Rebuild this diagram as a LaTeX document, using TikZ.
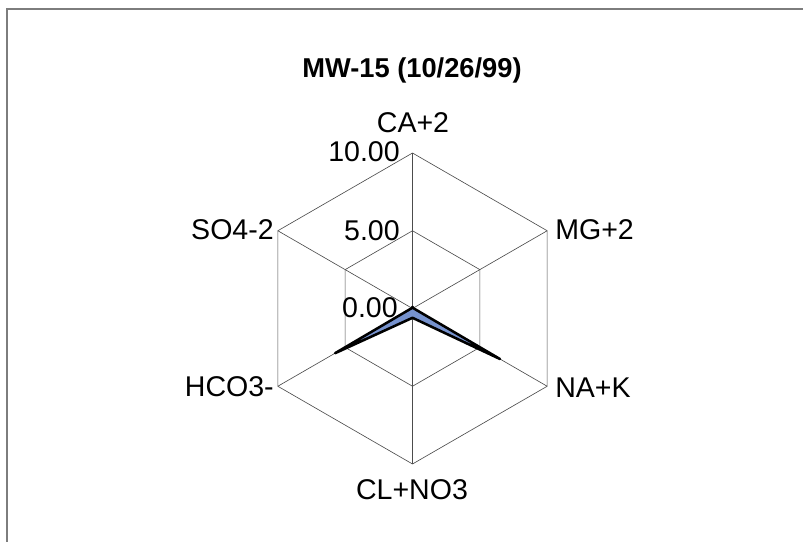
\documentclass[tikz,border=0pt]{standalone}
\usepackage{fontspec}
\setmainfont{Liberation Sans}
\usetikzlibrary{calc}

\definecolor{fillblue}{RGB}{118,146,206}
\definecolor{framegray}{RGB}{125,125,125}

\begin{document}
\begin{tikzpicture}[x=0.025cm, y=0.025cm,
	grid/.style={draw=black!70, line width=0.45pt},
	lbl/.style={inner sep=0pt, font=\fontsize{20.3}{24}\selectfont},
	ttl/.style={inner sep=0pt, font=\bfseries\fontsize{19.4}{23}\selectfont}]
\useasboundingbox (0, 0) rectangle (803, 541);
\clip (0, 0) rectangle (803, 541);
\draw[framegray, line width=0.8pt] (7, -20) -- (7, 532) -- (830, 532);

\coordinate (c) at (412.5, 232.5);

% spokes
\foreach \a in {90, 30, -30, -90, 210, 150}
	\draw[grid] (c) -- ++(\a:155.5);

% rings at 5 and 10
\draw[grid, shift={(c)}]
	(90:77.75) -- (30:77.75) -- (-30:77.75) -- (-90:77.75) -- (210:77.75) -- (150:77.75) -- cycle;
\draw[grid, shift={(c)}]
	(90:155.5) -- (30:155.5) -- (-30:155.5) -- (-90:155.5) -- (210:155.5) -- (150:155.5) -- cycle;

% data
\filldraw[fill=fillblue, draw=black, line width=1.8pt, line join=round, shift={(c)}]
	(90:1.6) -- (30:0.8) -- (-30:101) -- (-90:9.3) -- (210:89.4) -- (150:0.8) -- cycle;

% scale
\node[lbl, anchor=east] (s10) at (400, 389) {10.00};
\node[lbl, anchor=east] (s5) at (400, 310) {5.00};
\node[lbl, anchor=east] (s0) at (398, 233) {0.00};

% axis names
\node[lbl] (ca) at (413, 418) {CA+2};
\node[lbl, anchor=west] (mg) at (555, 311) {MG+2};
\node[lbl, anchor=west] (nak) at (555, 153) {NA+K};
\node[lbl] (clno) at (412, 51) {CL+NO3};
\node[lbl, anchor=east] (hco) at (274, 154) {HCO3-};
\node[lbl, anchor=east] (so) at (274, 311) {SO4-2};

\node[ttl] (title) at (412, 471) {MW-15 (10/26/99)};
\end{tikzpicture}
\end{document}
